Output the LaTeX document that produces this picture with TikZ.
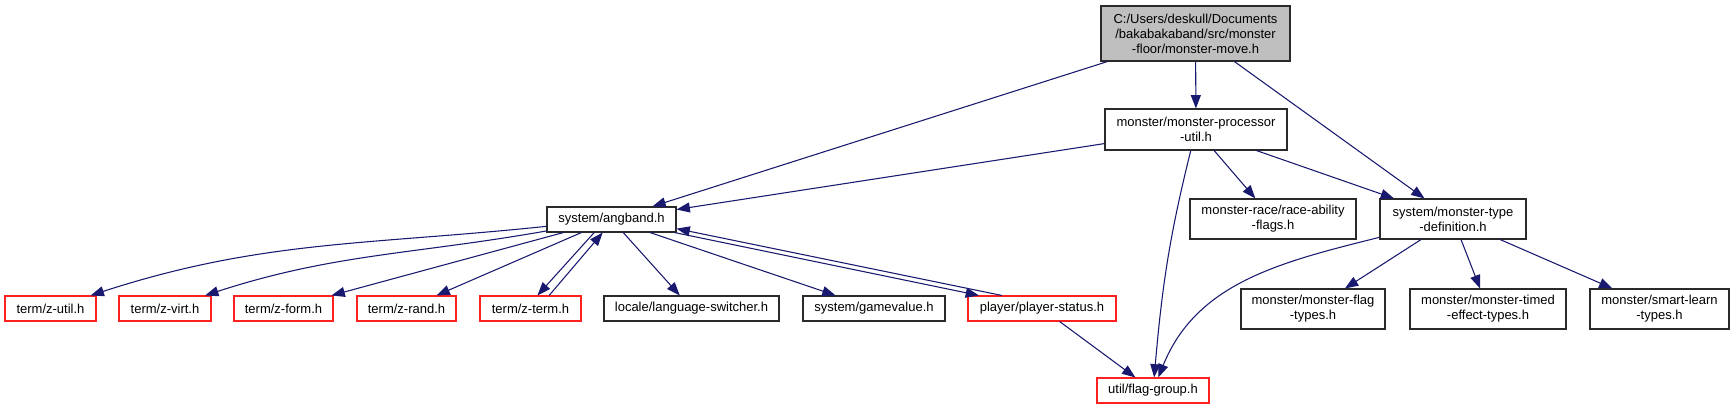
\documentclass[tikz,border=0pt]{standalone}
\usepackage{fontspec}
\setmainfont{Liberation Sans}
\usetikzlibrary{arrows.meta,positioning}
\definecolor{EdgeBlue}{HTML}{191970}
\definecolor{Frame}{HTML}{2A2A2A}
\definecolor{Missing}{HTML}{FF2020}
\definecolor{RootFill}{HTML}{BFBFBF}
\tikzset{
  boxsize/.style 2 args={minimum width=#1*0.75pt,minimum height=#2*0.75pt},
  filebox/.style={draw=Frame,fill=white,line width=0.8pt,inner sep=0pt,align=center,font=\fontsize{9.75}{11.25}\selectfont,text=black},
  rootbox/.style={filebox,fill=RootFill},
  missbox/.style={filebox,draw=Missing},
  dep/.style={-{Triangle[length=10pt,width=7.5pt]},draw=EdgeBlue,line width=0.8pt}
}

\begin{document}
\begin{tikzpicture}[x=0.75pt,y=-0.75pt]
  \path[fill=white,use as bounding box] (0,0) rectangle (1735,409);

  \node[rootbox,boxsize={189}{55}] (root) at (1195.5,33.5) {C:/Users/deskull/Documents\\/bakabakaband/src/monster\\-floor/monster-move.h};
  \node[filebox,boxsize={182}{41}] (procutil) at (1196,129.5) {monster/monster-processor\\-util.h};
  \node[filebox,boxsize={129}{25}] (angband) at (611.5,219.5) {system/angband.h};
  \node[filebox,boxsize={166}{40}] (raceflags) at (1273,219) {monster-race/race-ability\\-flags.h};
  \node[filebox,boxsize={146}{40}] (typedef) at (1453,219) {system/monster-type\\-definition.h};

  \node[missbox,boxsize={91}{25}] (zutil) at (50.5,308.5) {term/z-util.h};
  \node[missbox,boxsize={92}{25}] (zvirt) at (165,308.5) {term/z-virt.h};
  \node[missbox,boxsize={99}{25}] (zform) at (283.5,308.5) {term/z-form.h};
  \node[missbox,boxsize={99}{25}] (zrand) at (406.5,308.5) {term/z-rand.h};
  \node[missbox,boxsize={101}{25}] (zterm) at (530.5,308.5) {term/z-term.h};
  \node[filebox,boxsize={175}{25}] (langswitch) at (691.5,308.5) {locale/language-switcher.h};
  \node[filebox,boxsize={142}{25}] (gamevalue) at (874,308.5) {system/gamevalue.h};
  \node[missbox,boxsize={148}{25}] (playerstatus) at (1042,308.5) {player/player-status.h};
  \node[filebox,boxsize={144}{40}] (flagtypes) at (1313,309) {monster/monster-flag\\-types.h};
  \node[filebox,boxsize={156}{40}] (timedtypes) at (1488,309) {monster/monster-timed\\-effect-types.h};
  \node[filebox,boxsize={139}{40}] (smartlearn) at (1659.5,309) {monster/smart-learn\\-types.h};
  \node[missbox,boxsize={112}{25}] (flaggroup) at (1153,390.5) {util/flag-group.h};

  \draw[dep] (root) -- (angband);
  \draw[dep] (root) -- (procutil);
  \draw[dep] (root) -- (typedef);
  \draw[dep] (procutil) -- (angband);
  \draw[dep] (procutil) to[out=-104,in=85] (flaggroup);
  \draw[dep] (procutil) -- (raceflags);
  \draw[dep] (procutil) -- (typedef);

  \draw[dep] (angband) to[out=186,in=18] (zutil);
  \draw[dep] (angband) to[out=190,in=18] (zvirt);
  \draw[dep] (angband) -- (zform);
  \draw[dep] (angband) -- (zrand);
  \draw[dep] (angband.217) -- (zterm.62);
  \draw[dep] (zterm.35) -- (angband.236);
  \draw[dep] (angband) -- (langswitch);
  \draw[dep] (angband) -- (gamevalue);
  \draw[dep] (angband) -- (playerstatus);
  \draw[dep] (playerstatus.162) -- (angband.-8);
  \draw[dep] (playerstatus) -- (flaggroup);

  \draw[dep] (typedef) to[out=194,in=68] (flaggroup);
  \draw[dep] (typedef) -- (flagtypes);
  \draw[dep] (typedef) -- (timedtypes);
  \draw[dep] (typedef) -- (smartlearn);
\end{tikzpicture}
\end{document}
